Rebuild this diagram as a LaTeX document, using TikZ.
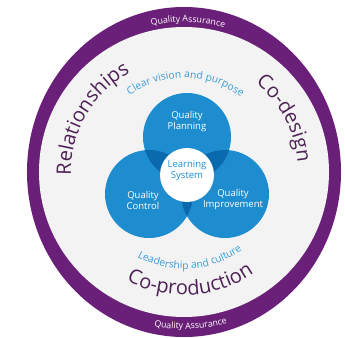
\documentclass[tikz,border=0pt]{standalone}
\usepackage{fontspec}
\setmainfont{Open Sans}
\usetikzlibrary{decorations.text}
\definecolor{ring}{HTML}{6A1F78}
\definecolor{bigtxt}{HTML}{4E2156}
\definecolor{qblue}{HTML}{1D8DD0}
\definecolor{qdark}{HTML}{0B6AAE}
\definecolor{ltblue}{HTML}{3A9BDA}
\definecolor{disk}{HTML}{F3F3F3}
\newcommand\bigfmt{\fontsize{20}{22}\selectfont\color{bigtxt}}
\newcommand\qafmt{\fontsize{8.8}{10}\selectfont\color{white}}
\newcommand\smfmt{\fontsize{10.3}{12}\selectfont\color{ltblue}}
\begin{document}
\begin{tikzpicture}[x=1pt,y=1pt,
  arctext/.style={decorate,decoration={text along path,text align=center,text={#1}}},
  qcircle/.style={fill=qblue},
  qlabel/.style={text=white,font=\fontsize{9.5}{11}\selectfont,align=center}]
\useasboundingbox (-184,-165) rectangle (161,172);
\coordinate (O) at (0,0);
% ring and disk
\fill[ring] (O) ellipse [x radius=157, y radius=165];
\fill[disk] (O) circle[radius=145];
% three circles
\coordinate (P) at (3,35);
\coordinate (C) at (-35,-22);
\coordinate (I) at (41,-22);
\fill[qcircle] (P) circle[radius=44];
\fill[qcircle] (C) circle[radius=44];
\fill[qcircle] (I) circle[radius=44];
\begin{scope}
  \clip (P) circle[radius=44];
  \fill[qdark] (C) circle[radius=44];
  \fill[qdark] (I) circle[radius=44];
\end{scope}
\begin{scope}
  \clip (C) circle[radius=44];
  \fill[qdark] (I) circle[radius=44];
\end{scope}
\node[circle,fill=white,minimum size=54pt,inner sep=0pt] (L) at (3,-3) {};
\node[text=qblue,font=\fontsize{9.5}{11}\selectfont,align=center] (Lt) at (3,1) {Learning\\System};
\node[qlabel] (Pt) at (3,50) {Quality\\Planning};
\node[qlabel] (Ct) at (-41,-28) {Quality\\Control};
\node[qlabel] (It) at (49,-28) {Quality\\Improvement};
% arc texts
\path[arctext={|\qafmt|Quality Assurance}] (128.5:150) arc[start angle=128.5,end angle=48.5,radius=150];
\path[arctext={|\qafmt|Quality Assurance}] (-127.5:157) arc[start angle=-127.5,end angle=-47.5,radius=157];
\path[arctext={|\bigfmt|Relationships}] (210:113) arc[start angle=210,end angle=90,radius=113];
\path[arctext={|\bigfmt|Co-design}] (85:114) arc[start angle=85,end angle=-29,radius=114];
\path[arctext={|\bigfmt|Co-production}] (-146.6:123) arc[start angle=-146.6,end angle=-26.6,radius=123];
\path[arctext={|\smfmt|Clear vision and purpose}] (149:94) arc[start angle=149,end angle=29,radius=94];
\path[arctext={|\smfmt|Leadership and culture}] (-146:97) arc[start angle=-146,end angle=-26,radius=97];
\end{tikzpicture}
\end{document}
